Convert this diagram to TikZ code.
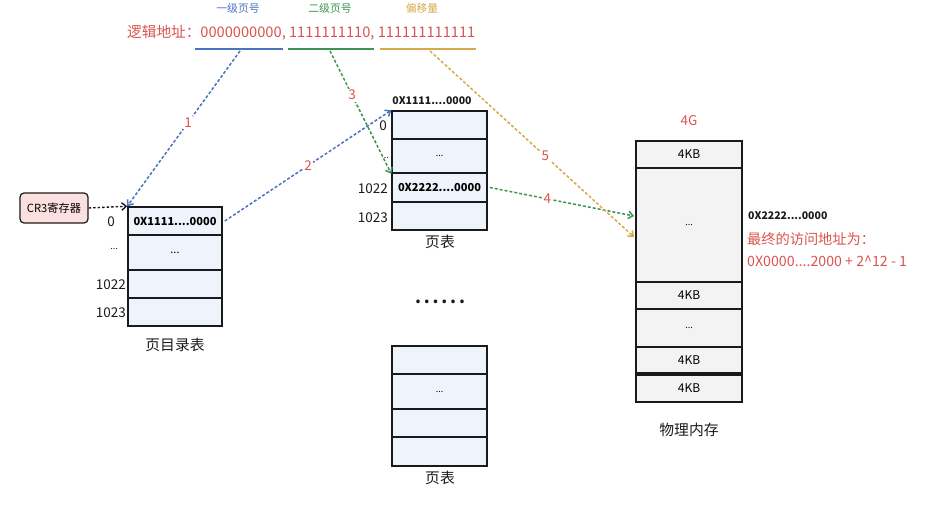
\documentclass[tikz,border=0pt]{standalone}
\usepackage{fontspec}
\setmainfont{Noto Sans CJK SC}
\usetikzlibrary{arrows.meta}
\definecolor{cblue}{HTML}{4A72C0}
\definecolor{cgreen}{HTML}{3E9450}
\definecolor{ctan}{HTML}{D6AA4A}
\definecolor{cred}{HTML}{D9534F}
\definecolor{cellblue}{HTML}{EEF3FC}
\definecolor{cellgray}{HTML}{F3F3F3}
\definecolor{cpink}{HTML}{FCE0E0}
\definecolor{cdark}{HTML}{1A1A1A}
\tikzset{
  cellb/.style={draw=cdark, line width=1.5pt, fill=cellblue, minimum width=94pt, inner sep=0pt, font=\fontsize{11}{12}\selectfont},
  cellg/.style={draw=cdark, line width=1.5pt, fill=cellgray, minimum width=106pt, inner sep=0pt, font=\fontsize{12}{13}\selectfont},
  idx/.style={anchor=east, inner sep=1pt, font=\fontsize{13.5}{14}\selectfont, text=cdark},
  captxt/.style={font=\fontsize{14.8}{16}\selectfont, text=cdark},
  flow/.style={dash pattern=on 3pt off 2pt, line width=1.5pt, -{Straight Barb[length=4.5pt,width=7.5pt]}},
  num/.style={fill=white, inner sep=1.5pt, text=cred, font=\fontsize{13.5}{14}\selectfont},
  hdr/.style={font=\fontsize{10.8}{12}\selectfont},
}
\begin{document}
\begin{tikzpicture}[x=1pt,y=-1pt]
\useasboundingbox (0,0) rectangle (936,510);
% header
\node[hdr, text=cblue] (h1) at (238,8) {一级页号};
\node[hdr, text=cgreen] (h2) at (330,8) {二级页号};
\node[hdr, text=ctan] (h3) at (422,8) {偏移量};
\node[anchor=west, text=cred, font=\fontsize{14.65}{16}\selectfont, inner sep=0pt] (addr) at (127,33) {逻辑地址：0000000000, 1111111110, 111111111111};
\coordinate (u1a) at (195,49); \coordinate (u1b) at (283,49);
\coordinate (u2a) at (288,49); \coordinate (u2b) at (374,49);
\coordinate (u3a) at (380,49); \coordinate (u3b) at (476,49);
\draw[cblue, line width=1.3pt] (u1a) -- (u1b);
\draw[cgreen, line width=1.3pt] (u2a) -- (u2b);
\draw[ctan, line width=1.3pt] (u3a) -- (u3b);
\coordinate (s1) at (240,51);
\coordinate (s3) at (330,51);
\coordinate (s5) at (430,51);
% CR3
\node[draw=cdark, line width=1.2pt, fill=cpink, rounded corners=4pt, minimum width=68pt, minimum height=30pt, inner sep=0pt, font=\fontsize{11.2}{12}\selectfont] (cr3) at (54,208) {CR3寄存器};
% page directory
\node[cellb, minimum height=28pt] (pd0) at (175,221) {\textbf{0X1111....0000}};
\node[cellb, minimum height=35pt] (pd1) at (175,252.5) {...};
\node[cellb, minimum height=28pt] (pd2) at (175,284) {};
\node[cellb, minimum height=28pt] (pd3) at (175,312) {};
\node[idx] (pdl0) at (116,222) {0};
\node[idx, font=\fontsize{9}{10}\selectfont] (pdl1) at (119,249) {...};
\node[idx] (pdl2) at (127,285) {1022};
\node[idx] (pdl3) at (127,313) {1023};
\node[captxt] (pdcap) at (175,345) {页目录表};
\draw[dash pattern=on 2.5pt off 2pt, line width=1.4pt, -{Straight Barb[length=4.5pt,width=7.5pt]}, cdark] (cr3.east) -- (pd0.north west);
% page table 1
\node[cellb, minimum width=95pt, minimum height=28pt] (pt0) at (439.5,125) {};
\node[cellb, minimum width=95pt, minimum height=34pt] (pt1) at (439.5,156) {\fontsize{9}{10}\selectfont...};
\node[cellb, minimum width=95pt, minimum height=29pt] (pt2) at (439.5,187.5) {\textbf{0X2222....0000}};
\node[cellb, minimum width=95pt, minimum height=28pt] (pt3) at (439.5,216) {};
\node[font=\fontsize{10.5}{12}\selectfont\bfseries, text=cdark] (pthead) at (432,101) {0X1111....0000};
\node[idx] (ptl0) at (388,126) {0};
\node[idx, font=\fontsize{9}{10}\selectfont] (ptl1) at (390,158) {..};
\node[idx] (ptl2) at (389,189) {1022};
\node[idx] (ptl3) at (389,218) {1023};
\node[captxt] (ptcap) at (440,242) {页表};
% dots
\node[font=\fontsize{17}{17}\selectfont\bfseries, text=cdark] (dots) at (440,302) {.\,.\,.\,.\,.\,.};
% page table 2
\node[cellb, minimum width=95pt, minimum height=28pt] (pq0) at (439.5,360) {};
\node[cellb, minimum width=95pt, minimum height=35pt] (pq1) at (439.5,391.5) {\fontsize{9}{10}\selectfont...};
\node[cellb, minimum width=95pt, minimum height=28pt] (pq2) at (439.5,423) {};
\node[cellb, minimum width=95pt, minimum height=29pt] (pq3) at (439.5,451.5) {};
\node[captxt] (pqcap) at (440,478) {页表};
% physical memory
\node[text=cred, font=\fontsize{13.5}{14}\selectfont] (m4g) at (689,121) {4G};
\node[cellg, minimum height=27pt] (m0) at (689,154.5) {4KB};
\node[cellg, minimum height=114pt] (m1) at (689,225) {\fontsize{9}{10}\selectfont...};
\node[cellg, minimum height=27pt] (m2) at (689,295.5) {4KB};
\node[cellg, minimum height=38pt] (m3) at (689,328) {\fontsize{9}{10}\selectfont...};
\node[cellg, minimum height=26pt] (m4) at (689,360) {4KB};
\node[cellg, minimum height=27pt] (m5) at (689,388.5) {4KB};
\node[captxt] (mcap) at (689,430) {物理内存};
\node[anchor=west, inner sep=0pt, font=\fontsize{10.5}{12}\selectfont\bfseries, text=cdark] (addr2) at (748,216) {0X2222....0000};
\node[anchor=west, inner sep=0pt, font=\fontsize{14.2}{15}\selectfont, text=cred] (final1) at (747,239) {最终的访问地址为：};
\node[anchor=west, inner sep=0pt, font=\fontsize{14.2}{15}\selectfont, text=cred] (final2) at (747,261) {0X0000....2000 + 2\^{}12 - 1};
\coordinate (t4) at (634,216);
\coordinate (t5) at (634,237);
% flows
\draw[flow, cblue] (s1) -- node[num, pos=0.46] {1} (pd0.north west);
\draw[flow, cblue] ([xshift=2pt]pd0.east) -- node[num, pos=0.5] {2} (pt0.north west);
\draw[flow, cgreen] (s3) -- node[num, pos=0.36] {3} (pt1.south west);
\draw[flow, cgreen] ([xshift=2pt]pt2.east) -- node[num, pos=0.4] {4} (t4);
\draw[flow, ctan] (s5) -- node[num, pos=0.565] {5} (t5);
\end{tikzpicture}
\end{document}
